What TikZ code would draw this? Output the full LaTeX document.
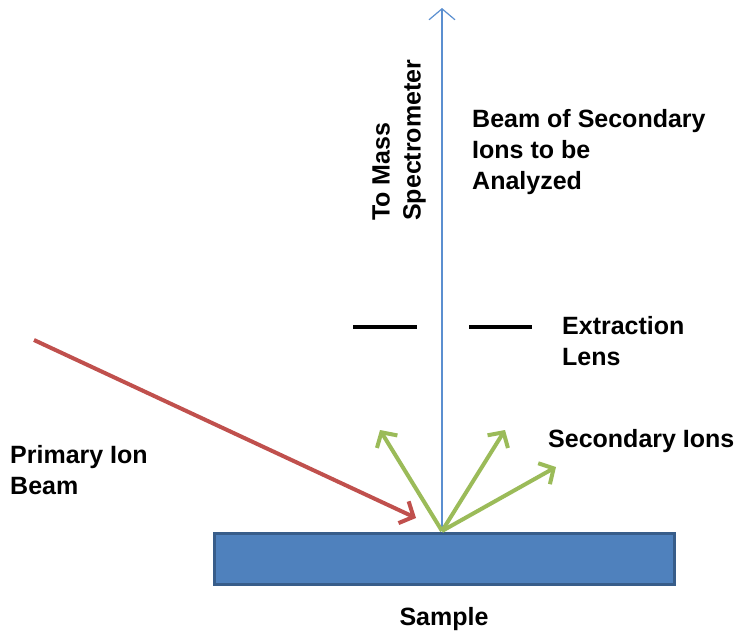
\documentclass[tikz,border=0pt]{standalone}
\usepackage{fontspec}
\setmainfont{Liberation Sans}
\usetikzlibrary{arrows.meta}
\definecolor{samplefill}{HTML}{4F81BD}
\definecolor{sampleedge}{HTML}{385D8A}
\definecolor{beamred}{HTML}{C0504D}
\definecolor{iongreen}{HTML}{9BBB59}
\definecolor{axisblue}{HTML}{5B8FD0}
\tikzset{
  lbl/.style={font=\bfseries\fontsize{25}{31}\selectfont, inner sep=0pt, align=left},
  ionarrow/.style={draw=iongreen, line width=4pt, -{Straight Barb[length=11pt,width=24pt,line width=4pt]}},
  lensbar/.style={draw=black, line width=3.5pt},
}
\begin{document}
\begin{tikzpicture}[x=1pt,y=-1pt]
\useasboundingbox (0,0) rectangle (739,635);
% sample slab
\node[draw=sampleedge, fill=samplefill, line width=3pt, minimum width=460pt, minimum height=51pt, inner sep=0pt, anchor=north west] (sample) at (213,532) {};
\coordinate (hit) at (442,531);
% extraction axis towards the spectrometer
\coordinate (top) at (442,8);
\draw[axisblue, line width=1.2pt, -{Straight Barb[length=11pt,width=26pt,line width=1.2pt]}] (hit) -- (top);
% extraction lens plates
\coordinate (l1) at (353,327); \coordinate (l2) at (417,327);
\coordinate (r1) at (469,327); \coordinate (r2) at (532,327);
\draw[lensbar] (l1) -- (l2);
\draw[lensbar] (r1) -- (r2);
% primary ion beam
\coordinate (src) at (34,340);
\coordinate (pend) at (416,518);
\draw[beamred, line width=4pt, -{Straight Barb[length=11pt,width=24pt,line width=4pt]}] (src) -- (pend);
% secondary ions
\coordinate (s1) at (380,430);
\coordinate (s2) at (505,430);
\coordinate (s3) at (556,467);
\draw[ionarrow] (hit) -- (s1);
\draw[ionarrow] (hit) -- (s2);
\draw[ionarrow] (hit) -- (s3);
% labels
\node[lbl, rotate=90, anchor=west] (tms) at (399,221) {To Mass\\Spectrometer};
\node[lbl, anchor=west] (beam) at (472,152) {Beam of Secondary\\Ions to be\\Analyzed};
\node[lbl, anchor=west] (lens) at (562,341) {Extraction\\Lens};
\node[lbl, anchor=west] (sec) at (548,441) {Secondary Ions};
\node[lbl, anchor=west] (prim) at (10,470) {Primary Ion\\Beam};
\node[lbl] (samp) at (444,619) {Sample};
\end{tikzpicture}
\end{document}
